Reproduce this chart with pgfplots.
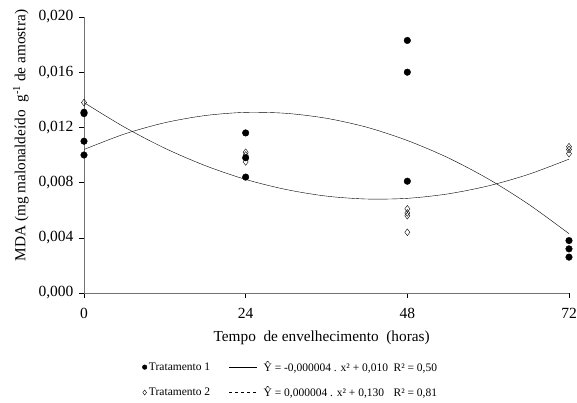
\documentclass[border=0pt]{standalone}
\usepackage{fontspec}
\setmainfont{Liberation Serif}
\usepackage{pgfplots}
\pgfplotsset{compat=1.18}

\begin{document}
\begin{tikzpicture}
\begin{axis}[
    scale only axis,
    width=485pt, height=276pt,
    xmin=0, xmax=72, ymin=0, ymax=0.020,
    axis x line=bottom, axis y line=left,
    axis line style={-, black!55},
    every outer x axis line/.append style={-},
    every outer y axis line/.append style={-},
    xtick={0,24,48,72},
    ytick={0,0.004,0.008,0.012,0.016,0.020},
    tick align=outside, major tick length=5pt,
    tick style={black, thin},
    scaled y ticks=false,
    yticklabel style={xshift=-2pt, /pgf/number format/.cd, fixed, fixed zerofill, precision=3, use comma, 1000 sep={}},
    /pgf/number format/assume math mode=true,
    tick label style={font=\fontsize{15.5}{18}\selectfont},
    xticklabel style={yshift=-7pt},
    label style={font=\fontsize{15.3}{18}\selectfont},
    xlabel={Tempo\ \ de envelhecimento\ \ (horas)},
    ylabel={MDA (mg malonaldeído\ \ g\textsuperscript{-1} de amostra)},
    xlabel style={at={(axis description cs:0.49,-0.163)}, anchor=center},
    ylabel style={at={(axis description cs:-0.13,0.57)}, anchor=center},
    legend columns=2,
    legend cell align=left,
    legend style={draw=none, fill=none, inner sep=0pt,
        font=\fontsize{11.5}{13}\selectfont,
        at={(axis description cs:0.12,-0.24)}, anchor=north west,
        /tikz/every even column/.append style={column sep=17pt},
        /tikz/row sep=10pt},
]
\coordinate (O) at (rel axis cs:0,0);

% Tratamento 1
\addplot[only marks, mark=*, mark size=3.3pt, black, forget plot] coordinates {
    (0,0.0131) (0,0.0130) (0,0.0110) (0,0.0100)
    (24,0.0116) (24,0.0098) (24,0.0084)
    (48,0.0183) (48,0.0160) (48,0.0081)
    (72,0.0038) (72,0.0032) (72,0.0026)
};
% Tratamento 2
\addplot[only marks, mark=diamond, mark size=3.4pt, black, thin, forget plot] coordinates {
    (0,0.0138)
    (24,0.0102) (24,0.0100) (24,0.0095)
    (48,0.0061) (48,0.0058) (48,0.0056) (48,0.0044)
    (72,0.0106) (72,0.0104) (72,0.0101)
};
% ajuste tratamento 1
\addplot[black, thin, smooth, forget plot] coordinates {
    (0,0.01040) (6,0.01152) (12,0.01234) (18,0.01286) (24,0.01309)
    (30,0.01302) (36,0.01266) (42,0.01201) (48,0.01105) (54,0.00981)
    (60,0.00827) (66,0.00643) (72,0.00430)
};
% ajuste tratamento 2
\addplot[black, thin, smooth, forget plot] coordinates {
    (0,0.01380) (6,0.01202) (12,0.01049) (18,0.00923) (24,0.00823)
    (30,0.00750) (36,0.00702) (42,0.00681) (48,0.00686) (54,0.00718)
    (60,0.00776) (66,0.00860) (72,0.00970)
};

\addlegendimage{only marks, mark=*, mark size=2.3pt, black}
\addlegendentry{Tratamento 1}
\addlegendimage{legend image code/.code={\draw[black, thin] (0pt,0pt) -- (28pt,0pt);}}
\addlegendentry{\hspace{4pt}\makebox[130pt][l]{Ŷ = -0,000004 . x² + 0,010}R² = 0,50}
\addlegendimage{only marks, mark=diamond, mark size=2.5pt, black, thin}
\addlegendentry{Tratamento 2}
\addlegendimage{legend image code/.code={\draw[black, thin, dashed] (0pt,0pt) -- (28pt,0pt);}}
\addlegendentry{\hspace{4pt}\makebox[130pt][l]{Ŷ = 0,000004 . x² + 0,130}R² = 0,81}
\end{axis}
\pgfresetboundingbox
\path (O) ++(-84pt,-109pt) rectangle ++(577pt,402pt);
\end{tikzpicture}
\end{document}
